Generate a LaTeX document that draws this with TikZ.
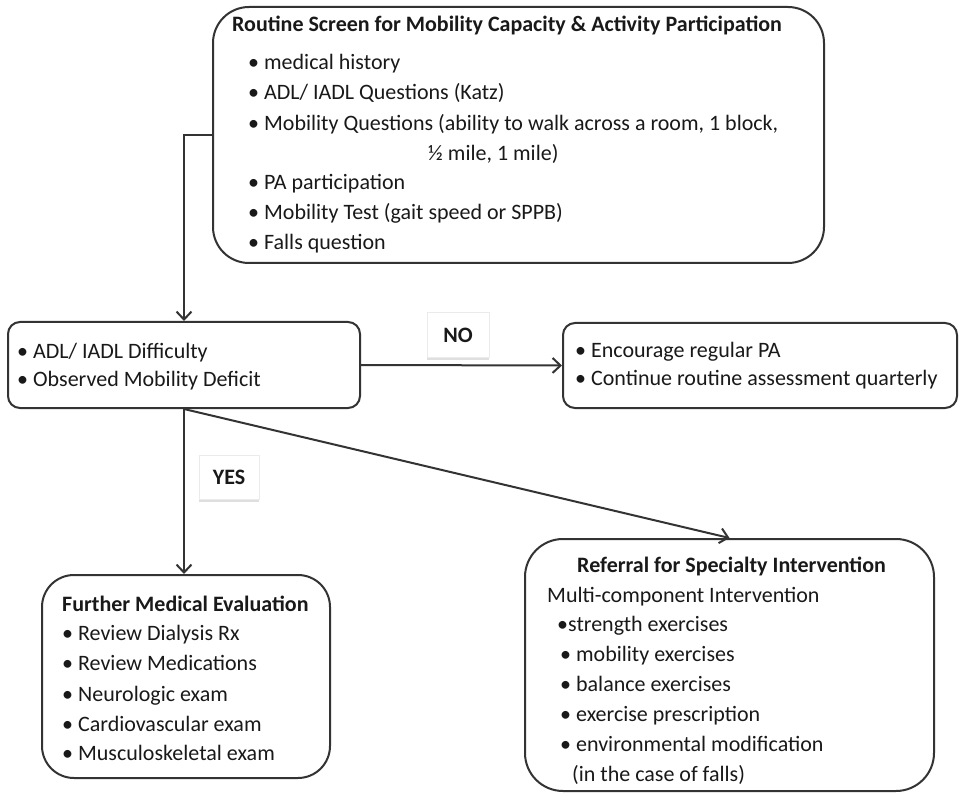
\documentclass[tikz,border=0pt]{standalone}
\usepackage{fontspec}
\setmainfont{Carlito}
\usetikzlibrary{arrows.meta,shadows}

\begin{document}
\begin{tikzpicture}[x=1pt,y=-1pt,
  line/.style={draw=black!80,line width=2pt},
  arr/.style={line,-{Straight Barb[length=8pt,width=15pt,line width=2pt]}},
  box/.style={line,fill=white,inner sep=0pt},
  txt/.style={anchor=base west,inner sep=0pt,font=\fontsize{22}{26}\selectfont,text=black!90},
  head/.style={txt,font=\fontsize{22}{26}\selectfont\bfseries},
  tag/.style={draw=black!8,fill=white,inner sep=0pt,minimum width=60pt,minimum height=44pt,
    font=\fontsize{22}{26}\selectfont\bfseries,text=black!90,
    drop shadow={shadow xshift=0pt,shadow yshift=-2.5pt,opacity=0.25}},
]
\useasboundingbox[fill=white] (0,0) rectangle (959,794);

% boxes
\node[box,rounded corners=36pt,minimum width=611pt,minimum height=256pt] (screen) at (518.5,135) {};
\node[box,rounded corners=12pt,minimum width=352pt,minimum height=86pt] (deficit) at (184,365) {};
\node[box,rounded corners=12pt,minimum width=394pt,minimum height=85pt] (routine) at (760,365.5) {};
\node[box,rounded corners=32pt,minimum width=288pt,minimum height=203pt] (medical) at (186,676.5) {};
\node[box,rounded corners=38pt,minimum width=409pt,minimum height=252pt] (referral) at (729.5,665) {};

% screening box text
\node[head] (s0) at (232,32) {Routine Screen for Mobility Capacity \& Activity Participation};
\node[txt] (s1) at (248,70) {\textbullet\ medical history};
\node[txt] (s2) at (248,100) {\textbullet\ ADL/ IADL Questions (Katz)};
\node[txt] (s3) at (248,131) {\textbullet\ Mobility Questions (ability to walk across a room, 1 block,};
\node[txt] (s4) at (428,161) {½ mile, 1 mile)};
\node[txt] (s5) at (248,190) {\textbullet\ PA participation};
\node[txt] (s6) at (248,220) {\textbullet\ Mobility Test (gait speed or SPPB)};
\node[txt] (s7) at (248,250) {\textbullet\ Falls question};

% decision box text
\node[txt] (d1) at (17,359) {\textbullet\ ADL/ IADL Difficulty};
\node[txt] (d2) at (17,387) {\textbullet\ Observed Mobility Deficit};

% routine follow-up text
\node[txt] (r1) at (575,358) {\textbullet\ Encourage regular PA};
\node[txt] (r2) at (575,386) {\textbullet\ Continue routine assessment quarterly};

% further evaluation text
\node[head] (m0) at (62,611) {Further Medical Evaluation};
\node[txt] (m1) at (62,640) {\textbullet\ Review Dialysis Rx};
\node[txt] (m2) at (62,670) {\textbullet\ Review Medications};
\node[txt] (m3) at (62,701) {\textbullet\ Neurologic exam};
\node[txt] (m4) at (62,731) {\textbullet\ Cardiovascular exam};
\node[txt] (m5) at (62,760) {\textbullet\ Musculoskeletal exam};

% referral text
\node[head] (f0) at (577,572) {Referral for Specialty Intervention};
\node[txt] (f1) at (547,602) {Multi-component Intervention};
\node[txt] (f2) at (557,631) {\textbullet strength exercises};
\node[txt] (f3) at (560,661) {\textbullet\ mobility exercises};
\node[txt] (f4) at (560,691) {\textbullet\ balance exercises};
\node[txt] (f5) at (560,721) {\textbullet\ exercise prescription};
\node[txt] (f6) at (560,751) {\textbullet\ environmental modification};
\node[txt] (f7) at (572,781) {(in the case of falls)};

% connectors
\draw[arr] (screen.west) -| (deficit.north);
\draw[arr] (deficit.east) -- (routine.west);
\draw[arr] (deficit.south) -- (deficit.south |- medical.north);
\draw[arr] (deficit.south) -- (referral.north);

% branch labels
\node[tag,minimum width=62pt,minimum height=45pt] (no) at (458,335) {NO};
\node[tag] (yes) at (229,477) {YES};
\end{tikzpicture}
\end{document}
